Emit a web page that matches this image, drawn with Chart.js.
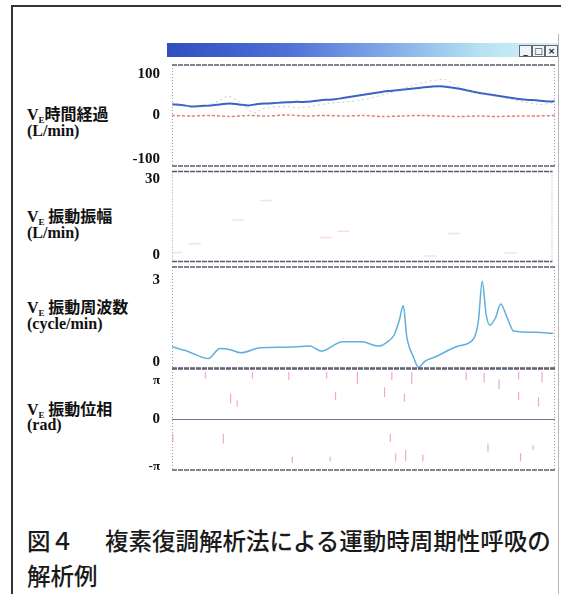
<!DOCTYPE html>
<html lang="ja">
<head>
<meta charset="UTF-8">
<title>図4 複素復調解析法による運動時周期性呼吸の解析例</title>
<script src="https://cdn.jsdelivr.net/npm/chart.js"></script>
<style>
  html, body { margin: 0; padding: 0; background: #fff; }
  #wrap { position: relative; width: 565px; height: 594px; overflow: hidden; background: #fff; }
  .frameL { position: absolute; left: 11px; top: 5px; width: 2px; height: 600px; background: #333; }
  .frameT { position: absolute; left: 11px; top: 5px; width: 550px; height: 2px; background: #333; }
  .frameR { position: absolute; left: 558px; top: 34px; width: 1px; height: 560px; background: #b8b8b8; }
  .titlebar { position: absolute; left: 167px; top: 43px; width: 391px; height: 14px;
    background: linear-gradient(90deg, #2f4fbf 0%, #4d6fd6 30%, #7fa6e6 55%, #b6e2f2 80%, #d6f2f8 100%); }
  .btn { position: absolute; top: 2px; width: 11px; height: 10px; background: #eef6f8; border: 1px solid #667;
    font: bold 9px "DejaVu Sans", sans-serif; line-height: 10px; text-align: center; color: #222; }
  canvas { position: absolute; }
  .lab { position: absolute; left: 27px; color: #111; white-space: nowrap; }
  .name { font: 700 16px "Noto Sans CJK JP", sans-serif; line-height: 18px; }
  .name .v { font: bold 16px "Liberation Serif", serif; }
  .name sub { font: bold 9px "Liberation Serif", serif; vertical-align: -3px; }
  .unit { font: bold 16px "Liberation Serif", serif; line-height: 18px; }
  .cap { position: absolute; left: 27px; font: 500 23.5px "Noto Sans CJK JP", sans-serif; color: #1a1a1a; white-space: nowrap; line-height: 28px; }
</style>
</head>
<body>
<div id="wrap">
  <div class="frameL"></div>
  <div class="frameT"></div>
  <div class="frameR"></div>
  <div class="titlebar">
    <div class="btn" style="left:352px">_</div>
    <div class="btn" style="left:365px">□</div>
    <div class="btn" style="left:378px">×</div>
  </div>

  <div class="lab name" style="top:104px"><span class="v">V</span><sub>E</sub>時間経過</div>
  <div class="lab unit" style="top:122px">(L/min)</div>
  <div class="lab name" style="top:206px"><span class="v">V</span><sub>E</sub> 振動振幅</div>
  <div class="lab unit" style="top:224px">(L/min)</div>
  <div class="lab name" style="top:297px"><span class="v">V</span><sub>E</sub> 振動周波数</div>
  <div class="lab unit" style="top:315px">(cycle/min)</div>
  <div class="lab name" style="top:399px"><span class="v">V</span><sub>E</sub> 振動位相</div>
  <div class="lab unit" style="top:416px">(rad)</div>

  <canvas id="c1"></canvas>
  <canvas id="c2"></canvas>
  <canvas id="c3"></canvas>
  <canvas id="c4"></canvas>

  <div class="cap" style="top:526px">図４<span style="margin-left:31px">複素復調解析法による運動時周期性呼吸の</span></div>
  <div class="cap" style="top:561px">解析例</div>
</div>

<script>
// time axis runs 0..100 (arbitrary units across the record)

// panel 1: VE time course (L/min)
const trendX = [0, 2.5, 5, 7.5, 10, 12.5, 15, 17.5, 20, 22.5, 25, 27.5, 30, 32.5, 35, 37.5, 40, 42.5, 45, 47.5,
  50, 52.5, 55, 57.5, 60, 62.5, 65, 67.5, 70, 72.5, 75, 77.5, 80, 82.5, 85, 87.5, 90, 92.5, 95, 97.5, 100];
const trendY = [22, 21, 18, 19, 20, 22, 24, 22, 20, 23, 24, 25, 26, 27, 27, 29, 31, 32, 35, 38,
  41, 44, 47, 49, 51, 53, 55, 57, 58, 56, 53, 49, 45, 42, 39, 36, 33, 31, 30, 28, 28];
const rawX = [0, 8, 12, 14.5, 17, 19.5, 21.5, 24, 30, 33, 41, 49, 57, 63, 66, 69, 71.5, 74, 78, 86, 96, 100];
const rawY = [25, 17, 28, 38, 30, 14, 5, 14, 18, 15, 24, 30, 45, 60, 66, 70, 71, 60, 48, 36, 22, 26];
const baseX = [0, 5, 10, 15, 20, 25, 30, 35, 40, 45, 50, 55, 60, 65, 70, 75, 80, 85, 90, 95, 100];
const baseY = [0, -1, 0, -2, 0, -1, 1, -1, 0, -1, 0, -2, -1, 0, -1, -2, -1, -2, -1, -1, 0];

// panel 2: oscillation amplitude (L/min), faint traces
const ampX = [1, 6, 17.5, 24.8, 40.5, 45, 68, 74, 89, 96.6];
const ampY = [3, 5.9, 13.8, 20.3, 8, 10.1, 1.8, 9.3, 2.8, 0.3];

// panel 3: oscillation frequency (cycle/min)
const freqX = [0, 4, 9.5, 12.5, 15, 18, 23, 30, 36, 39, 44.5, 49.5, 54, 56.5, 58, 59.3, 60.4, 61.3, 63, 64.4,
  66, 68.5, 75, 78.7, 80, 81, 82, 83, 84.5, 85.8, 87.5, 89.2, 95, 99.5];
const freqY = [0.63, 0.5, 0.28, 0.58, 0.55, 0.45, 0.6, 0.62, 0.65, 0.5, 0.78, 0.78, 0.65, 0.8, 0.98, 1.4, 1.85, 0.93, 0.34, 0.02,
  0.2, 0.32, 0.66, 0.86, 1.4, 2.58, 1.6, 1.27, 1.5, 1.9, 1.5, 1.1, 1.06, 1.03];

// panel 4: oscillation phase (rad), short wrap segments
const phaseX = [8.7, 21, 30.5, 40.4, 48.4, 57.4, 62.6, 76.8, 81.5, 85.4, 90.5, 96.6,
  0.2, 13.4, 31.4, 41.3, 58.4, 61, 65.5, 82.5, 91, 94.3,
  15.3, 42.7, 55.5, 60.7, 90.5, 95.7, 57, 17];
const phaseTop = [2.95, 2.95, 2.95, 2.95, 2.95, 2.95, 2.95, 2.95, 2.9, 2.5, 2.95, 2.95,
  -0.9, -0.9, -2.3, -2.3, -2.1, -1.9, -2.2, -1.5, -2.1, -1.6,
  1.6, 1.7, 2.0, 1.6, 1.7, 1.4, -0.9, 1.2];
const phaseBot = [2.55, 2.55, 2.45, 2.55, 2.2, 2.45, 2.2, 2.45, 2.3, 1.9, 2.5, 2.3,
  -1.4, -1.5, -2.7, -2.6, -2.6, -2.6, -2.6, -2.0, -2.6, -1.9,
  1.0, 1.2, 1.4, 1.1, 1.2, 0.8, -1.4, 0.8];

// y tick labels for each panel
const ticks1 = [100, 0, -100], labels1 = ['100', '0', '-100'];
const ticks2 = [30, 0], labels2 = ['30', '0'];
const ticks3 = [3, 0], labels3 = ['3', '0'];
const ticks4 = [Math.PI, 0, -Math.PI], labels4 = ['π', '0', '-π'];

const pts = (xs, ys) => xs.map((x, i) => ({ x, y: ys[i] }));

// draws the panel box and the tick labels, kept slightly inside the box edges
const panelFrame = {
  id: 'panelFrame',
  afterDraw(chart, args, o) {
    const { ctx, chartArea: a } = chart;
    const ys = chart.scales.y;
    ctx.save();
    ctx.lineWidth = 1;
    ctx.strokeStyle = '#a0a0a8';
    ctx.setLineDash([1, 2]);
    ctx.beginPath();
    ctx.moveTo(a.left + 0.5, a.top); ctx.lineTo(a.left + 0.5, a.bottom);
    ctx.moveTo(a.right - 0.5, a.top); ctx.lineTo(a.right - 0.5, a.bottom);
    ctx.stroke();
    ctx.strokeStyle = '#5a5a6c';
    ctx.lineWidth = 1.5;
    ctx.setLineDash([5, 1]);
    ctx.beginPath();
    ctx.moveTo(a.left, a.top); ctx.lineTo(a.right, a.top);
    ctx.moveTo(a.left, a.bottom); ctx.lineTo(a.right, a.bottom);
    ctx.stroke();
    ctx.setLineDash([]);
    ctx.fillStyle = '#111';
    ctx.textAlign = 'right';
    ctx.textBaseline = 'middle';
    o.ticks.forEach((t, i) => {
      let y = ys.getPixelForValue(t);
      y = Math.min(Math.max(y, a.top + o.inTop), a.bottom - o.inBottom);
      const lab = o.labels[i];
      ctx.font = lab.includes('π') ? 'bold 13px "Liberation Serif", serif' : 'bold 15px "Liberation Serif", serif';
      ctx.fillText(lab, a.left - 12, y);
    });
    ctx.restore();
  }
};

function makePanel(id, top, bottom, yMin, yMax, datasets, frame, zeroGrid) {
  const cv = document.getElementById(id);
  cv.style.left = '100px';
  cv.style.top = (top - 2) + 'px';
  cv.width = 460;
  cv.height = bottom - top + 4;
  cv.style.width = '460px';
  cv.style.height = (bottom - top + 4) + 'px';
  return new Chart(cv, {
    type: 'line',
    data: { datasets },
    options: {
      responsive: false,
      animation: false,
      layout: { padding: { top: 2, bottom: 2, left: 0, right: 5 } },
      plugins: { legend: { display: false }, tooltip: { enabled: false }, panelFrame: frame },
      elements: { point: { radius: 0 } },
      scales: {
        x: { type: 'linear', min: 0, max: 100, display: false },
        y: {
          min: yMin, max: yMax,
          afterFit: s => { s.width = 72; },
          afterBuildTicks: s => { s.ticks = frame.ticks.map(v => ({ value: v })); },
          ticks: { display: false },
          border: { display: false },
          grid: {
            drawTicks: false,
            color: c => (zeroGrid && c.tick && c.tick.value === 0) ? '#6c7890' : 'rgba(0,0,0,0)',
            lineWidth: 1
          }
        }
      }
    },
    plugins: [panelFrame]
  });
}

const phaseData = [];
phaseX.forEach((x, i) => {
  phaseData.push({ x, y: phaseTop[i] }, { x, y: phaseBot[i] }, { x, y: null });
});

makePanel('c1', 65, 166, -100, 100, [
  { data: pts(rawX, rawY), borderColor: 'rgba(150,150,160,0.5)', borderWidth: 1, borderDash: [2, 3], tension: 0.3 },
  { data: pts(baseX, baseY), borderColor: 'rgba(220,70,70,0.7)', borderWidth: 1.5, borderDash: [3, 2], tension: 0.2 },
  { data: pts(trendX, trendY), borderColor: '#3a62c6', borderWidth: 2, tension: 0.35 }
], { ticks: ticks1, labels: labels1, inTop: 9, inBottom: 7 }, false);

makePanel('c2', 166, 267, 0, 30, [
  { data: pts(ampX, ampY), showLine: false, pointStyle: 'line', radius: 6, borderColor: 'rgba(235,140,150,0.28)', borderWidth: 1.5 }
], { ticks: ticks2, labels: labels2, inTop: 8, inBottom: 6 }, false);

makePanel('c3', 267, 368, 0, 3, [
  { data: pts(freqX, freqY), borderColor: '#5fb0dc', borderWidth: 1.5, cubicInterpolationMode: 'monotone' }
], { ticks: ticks3, labels: labels3, inTop: 13, inBottom: 6 }, false);

makePanel('c4', 369, 470, -Math.PI, Math.PI, [
  { data: phaseData, borderColor: 'rgba(228,110,170,0.6)', borderWidth: 1.2, spanGaps: false }
], { ticks: ticks4, labels: labels4, inTop: 12, inBottom: 3 }, true);
</script>
</body>
</html>
